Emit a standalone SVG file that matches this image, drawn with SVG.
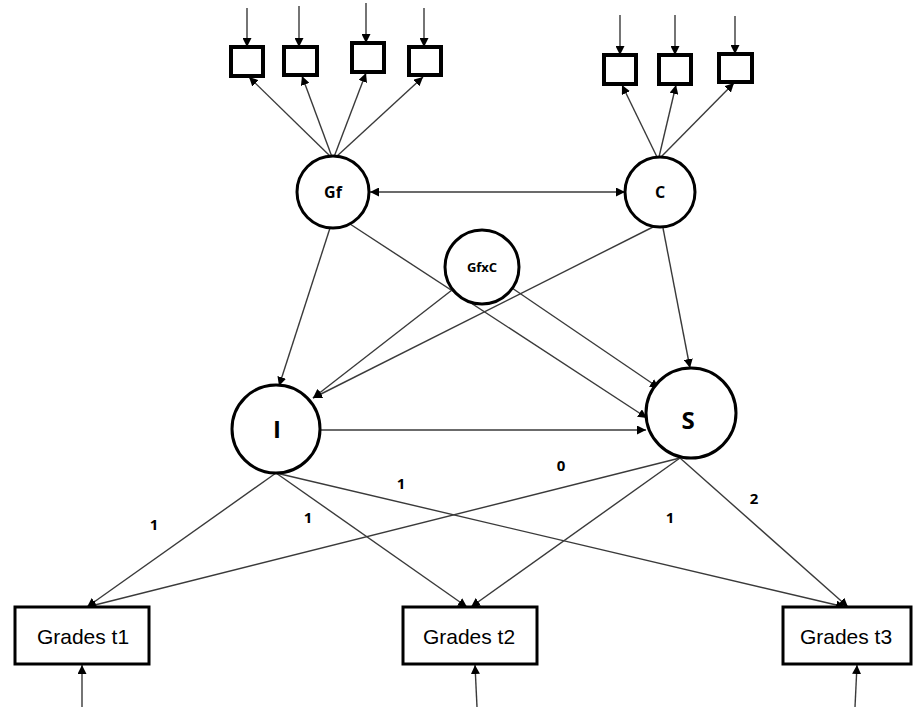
<svg xmlns="http://www.w3.org/2000/svg" width="913" height="707" viewBox="0 0 913 707">
  <style>
    .latent { fill: #fff; stroke: #000; stroke-width: 3; }
    .indicator { fill: #fff; stroke: #000; stroke-width: 4; }
    .outcome { fill: #fff; stroke: #000; stroke-width: 3; }
    .edge { stroke: #3a3a3a; stroke-width: 1.4; fill: none; marker-end: url(#head); }
    .both { marker-start: url(#tail); }
    .lbl { font-family: "Open Sans", "Liberation Sans", sans-serif; font-weight: bold; fill: #000; text-anchor: middle; dominant-baseline: central; }
    .grade { font-family: "Liberation Sans", "Open Sans", sans-serif; font-size: 21px; fill: #000; text-anchor: middle; dominant-baseline: central; }
    .coef { font-family: "Open Sans", "Liberation Sans", sans-serif; font-weight: bold; font-size: 15px; fill: #000; text-anchor: middle; dominant-baseline: central; }
  </style>
  <defs>
    <marker id="head" viewBox="0 0 10 10" refX="10" refY="5" markerWidth="9" markerHeight="9" markerUnits="userSpaceOnUse" orient="auto">
      <path d="M0,0 L10,5 L0,10 z" fill="#000"/>
    </marker>
    <marker id="tail" viewBox="0 0 10 10" refX="0" refY="5" markerWidth="9" markerHeight="9" markerUnits="userSpaceOnUse" orient="auto">
      <path d="M10,0 L0,5 L10,10 z" fill="#000"/>
    </marker>
  </defs>
  <rect width="913" height="707" fill="#fff"/>

  <g id="connectors">
    <!-- residual arrows into Gf indicators -->
    <line class="edge" x1="247" y1="8" x2="247" y2="47"/>
    <line class="edge" x1="299" y1="6" x2="299" y2="47"/>
    <line class="edge" x1="366" y1="3" x2="366" y2="43"/>
    <line class="edge" x1="424" y1="8" x2="424" y2="47"/>
    <!-- residual arrows into C indicators -->
    <line class="edge" x1="620" y1="15" x2="620" y2="55"/>
    <line class="edge" x1="675" y1="15" x2="675" y2="55"/>
    <line class="edge" x1="735" y1="16" x2="735" y2="54"/>
    <!-- Gf loadings -->
    <line class="edge" x1="331" y1="157" x2="249" y2="77"/>
    <line class="edge" x1="332" y1="157" x2="302" y2="76"/>
    <line class="edge" x1="334" y1="157" x2="366" y2="73"/>
    <line class="edge" x1="336" y1="157" x2="423" y2="77"/>
    <!-- C loadings -->
    <line class="edge" x1="657" y1="157" x2="622" y2="85"/>
    <line class="edge" x1="659" y1="157" x2="676" y2="85"/>
    <line class="edge" x1="661" y1="157" x2="734" y2="83"/>
    <!-- Gf with C -->
    <line class="edge both" x1="370" y1="192" x2="625" y2="192"/>
    <!-- structural paths -->
    <line class="edge" x1="330" y1="228" x2="279" y2="386"/>
    <line class="edge" x1="350" y1="224" x2="647" y2="418"/>
    <line class="edge" x1="512" y1="288" x2="659" y2="388"/>
    <line class="edge" x1="452" y1="290" x2="313" y2="398"/>
    <line class="edge" x1="653" y1="227" x2="313" y2="398"/>
    <line class="edge" x1="663" y1="228" x2="690" y2="368"/>
    <line class="edge" x1="321" y1="430" x2="646" y2="430"/>
    <!-- intercept loadings -->
    <line class="edge" x1="276" y1="473" x2="87" y2="607"/>
    <line class="edge" x1="276" y1="473" x2="467" y2="607"/>
    <line class="edge" x1="276" y1="473" x2="845" y2="607"/>
    <!-- slope loadings -->
    <line class="edge" x1="680" y1="458" x2="87" y2="607"/>
    <line class="edge" x1="680" y1="458" x2="471" y2="607"/>
    <line class="edge" x1="680" y1="458" x2="848" y2="607"/>
    <!-- residual arrows into grades -->
    <line class="edge" x1="82" y1="707" x2="82" y2="665"/>
    <line class="edge" x1="477" y1="707" x2="475" y2="665"/>
    <line class="edge" x1="855" y1="707" x2="857" y2="665"/>
  </g>

  <g id="gf-indicators">
    <rect class="indicator" x="231" y="47" width="32" height="29"/>
    <rect class="indicator" x="284" y="47" width="33" height="28"/>
    <rect class="indicator" x="352" y="43" width="32" height="29"/>
    <rect class="indicator" x="409" y="47" width="32" height="28"/>
  </g>
  <g id="c-indicators">
    <rect class="indicator" x="604" y="55" width="32" height="29"/>
    <rect class="indicator" x="659" y="55" width="32" height="29"/>
    <rect class="indicator" x="719" y="54" width="33" height="28"/>
  </g>

  <g id="node-gf">
    <circle class="latent" cx="333" cy="192" r="36"/>
    <text class="lbl" x="333" y="192" font-size="16">Gf</text>
  </g>
  <g id="node-c">
    <circle class="latent" cx="660" cy="192" r="35"/>
    <text class="lbl" x="660" y="192" font-size="16">C</text>
  </g>
  <g id="node-gfxc">
    <circle class="latent" cx="482" cy="267" r="37"/>
    <text class="lbl" x="482" y="267" font-size="13">GfxC</text>
  </g>
  <g id="node-i">
    <circle class="latent" cx="276" cy="429" r="44"/>
    <text class="lbl" x="277" y="428" font-size="24">I</text>
  </g>
  <g id="node-s">
    <circle class="latent" cx="691" cy="413" r="45"/>
    <text class="lbl" x="688" y="419" font-size="24">S</text>
  </g>

  <g id="node-grades-t1">
    <rect class="outcome" x="15" y="607" width="134" height="57"/>
    <text class="grade" x="83" y="636">Grades t1</text>
  </g>
  <g id="node-grades-t2">
    <rect class="outcome" x="403" y="607" width="134" height="57"/>
    <text class="grade" x="469" y="636">Grades t2</text>
  </g>
  <g id="node-grades-t3">
    <rect class="outcome" x="783" y="607" width="128" height="57"/>
    <text class="grade" x="846" y="636">Grades t3</text>
  </g>

  <g id="coefficients">
    <text class="coef" x="154" y="524">1</text>
    <text class="coef" x="308" y="517">1</text>
    <text class="coef" x="401" y="483">1</text>
    <text class="coef" x="561" y="465">0</text>
    <text class="coef" x="670" y="517">1</text>
    <text class="coef" x="754" y="498">2</text>
  </g>
</svg>
